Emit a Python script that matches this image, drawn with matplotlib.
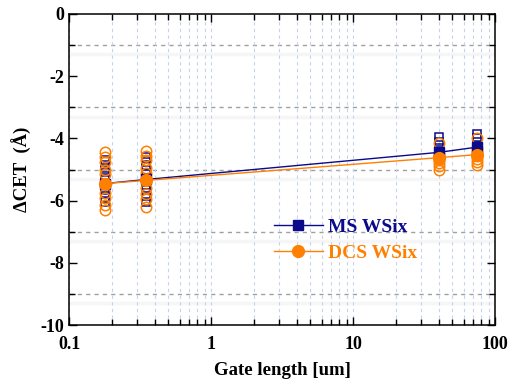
import matplotlib
matplotlib.use("Agg")
import matplotlib.pyplot as plt
from matplotlib.ticker import LogLocator, MultipleLocator, NullFormatter
import numpy as np

# ---- data ----
gate_lengths = [0.18, 0.35, 40, 75]
ms_points = [
    [-4.7, -4.85, -5.0, -5.2, -5.35, -5.6, -5.75, -5.9, -6.05],
    [-4.6, -4.75, -4.9, -5.1, -5.3, -5.5, -5.65, -5.85, -6.05],
    [-3.95, -4.1, -4.3, -4.45, -4.55, -4.65],
    [-3.85, -4.0, -4.2, -4.35, -4.45],
]
dcs_points = [
    [-4.45, -4.6, -4.75, -5.0, -5.15, -5.75, -5.9, -6.15, -6.3],
    [-4.4, -4.55, -4.7, -4.95, -5.1, -5.6, -5.8, -5.95, -6.2],
    [-4.15, -4.5, -4.6, -4.7, -4.8, -4.9, -5.0],
    [-4.0, -4.3, -4.45, -4.55, -4.65, -4.75, -4.85],
]
ms_mean = [-5.45, -5.32, -4.45, -4.28]
dcs_mean = [-5.45, -5.35, -4.62, -4.52]
ms_label = "MS WSix"
dcs_label = "DCS WSix"

navy = "#0a0a8a"
orange = "#ff8000"

plt.rcParams['font.family'] = ['Liberation Serif', 'DejaVu Serif']
plt.rcParams['font.weight'] = 'bold'
plt.rcParams['axes.unicode_minus'] = False

fig = plt.figure(figsize=(5.2, 3.87), dpi=100)
ax = fig.add_axes([0.133, 0.160, 0.819, 0.804])

ax.set_xscale('log')
ax.set_xlim(0.1, 100)
ax.set_ylim(-10, 0)

# grid
ax.xaxis.set_minor_locator(LogLocator(base=10, subs=np.arange(2, 10), numticks=20))
ax.grid(which='both', axis='x', color='#c4d4ec', linestyle=(0, (3, 3)), linewidth=0.8)
for yv in [-1, -3, -5, -7, -9]:
    ax.axhline(yv, color='#a0a0a0', linestyle=(0, (3, 3)), linewidth=1.0, zorder=1)
    ax.axhline(yv - 0.3, color='#f6f6f8', linewidth=2.5, zorder=0.5)

# individual points
for x, vals in zip(gate_lengths, ms_points):
    ax.plot([x] * len(vals), vals, linestyle='none', marker='s', markersize=5.5,
            markerfacecolor='none', markeredgecolor=navy, markeredgewidth=1.1, zorder=3)
for x, vals in zip(gate_lengths, dcs_points):
    ax.plot([x] * len(vals), vals, linestyle='none', marker='o', markersize=7.5,
            markerfacecolor='none', markeredgecolor=orange, markeredgewidth=1.1, zorder=3)

# mean lines
ax.plot(gate_lengths, ms_mean, color=navy, linewidth=1.0, marker='s', markersize=7,
        markerfacecolor=navy, markeredgecolor=navy, zorder=4, label=ms_label)
ax.plot(gate_lengths, dcs_mean, color=orange, linewidth=1.0, marker='o', markersize=8.5,
        markerfacecolor=orange, markeredgecolor=orange, zorder=5, label=dcs_label)

# ticks
ax.yaxis.set_major_locator(MultipleLocator(2))
ax.yaxis.set_minor_locator(MultipleLocator(1))
ax.xaxis.set_minor_formatter(NullFormatter())
ax.set_xticks([0.1, 1, 10, 100])
ax.set_xticklabels(['0.1', '1', '10', '100'])
ax.tick_params(which='both', direction='in', top=True, right=True, labelsize=13)
ax.tick_params(which='major', length=6, width=1)
ax.tick_params(which='minor', length=4, width=1)
ax.tick_params(axis='x', pad=8)
for lab in ax.get_xticklabels() + ax.get_yticklabels():
    lab.set_fontweight('bold')
for s in ax.spines.values():
    s.set_linewidth(1.1)

ax.set_xlabel('Gate length [um]', fontsize=13.5, fontweight='bold', labelpad=6)
ax.set_ylabel('ΔCET  (Å)', fontsize=13.5, fontweight='bold', labelpad=6)

leg = ax.legend(loc='upper left', bbox_to_anchor=(0.44, 0.40), frameon=False,
                fontsize=14, handlelength=2.5, handletextpad=0.3, labelspacing=0.45)
for txt, c in zip(leg.get_texts(), [navy, orange]):
    txt.set_color(c)
    txt.set_fontweight('bold')

fig.savefig('out.png', dpi=100)
